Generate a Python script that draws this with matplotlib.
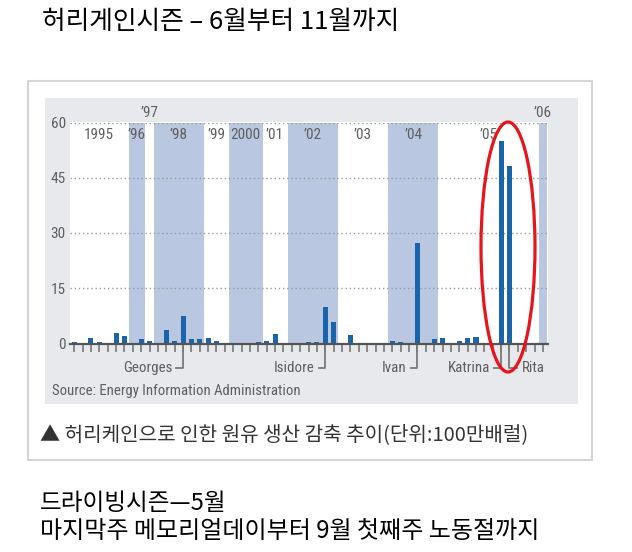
import matplotlib
matplotlib.use("Agg")
import matplotlib.pyplot as plt
from matplotlib.patches import Rectangle, Ellipse

# monthly crude production cut (million barrels), hurricane season months 1995-2006
values = [0.5, 0, 1.5, 0.3, 0, 2.8, 2.0,          # 1995
          0, 1.3,                                 # '96
          0.8,                                    # '97
          0, 3.6, 0.6, 7.6, 1.1, 1.3,             # '98
          1.6, 0.6, 0,                            # '99
          0, 0, 0, 0.3,                           # 2000
          0.7, 2.5, 0,                            # '01
          0, 0, 0.3, 0.5, 10.0, 5.9,              # '02
          0, 2.3, 0, 0, 0.2, 0,                   # '03
          0.6, 0.5, 0, 27.4, 0, 1.2,              # '04
          1.4, 0, 0.6, 1.5, 1.9, 0, 0, 54.9, 48.2, 0, 0, 0,  # '05
          0]                                      # '06
years = ["1995", "’96", "’97", "’98", "’99", "2000", "’01", "’02", "’03", "’04", "’05", "’06"]
months_per_year = [7, 2, 1, 6, 3, 4, 3, 6, 6, 6, 12, 1]
storms = ["Georges", "Isidore", "Ivan", "Katrina", "Rita"]
storm_idx = [13, 30, 41, 51, 52]
yticks = [0, 15, 30, 45, 60]

KR = ["Noto Sans CJK KR", "DejaVu Sans"]
LAT = ["Roboto Condensed", "Liberation Sans Narrow", "Roboto", "DejaVu Sans"]
GRAY = "#5f5f5f"
BAND = "#b9c7e1"
BAR = "#1a64ab"

W, H = 632, 552
fig = plt.figure(figsize=(W / 100, H / 100), dpi=100)


def fx(px):
    return px / W


def fy(py):
    return 1 - py / H


# outer frame and grey panel
fig.add_artist(Rectangle((fx(28), fy(460)), fx(592) - fx(28), fy(81) - fy(460),
                         facecolor="white", edgecolor="#d4d4d4", lw=1.5, zorder=-2))
fig.add_artist(Rectangle((fx(45), fy(404)), fx(578) - fx(45), fy(98) - fy(404),
                         facecolor="#e8e9ed", edgecolor="none", zorder=-1))

ax = fig.add_axes([fx(70), fy(343.5), fx(548) - fx(70), fy(122.5) - fy(343.5)])
ax.set_zorder(2)
ax.set_facecolor("white")
n = len(values)
ax.set_xlim(-0.5, n - 0.4)
ax.set_ylim(0, 60)

# year bands
start = 0
for i, (yr, m) in enumerate(zip(years, months_per_year)):
    lo, hi = start - 0.5, start + m - 0.5
    if i % 2 == 1:
        ax.axvspan(lo, min(hi, n - 0.4), color=BAND, lw=0, zorder=0)
    cx = (lo + hi) / 2
    if m == 1 and i > 0:
        ax.text(cx, 62.6, yr, ha="center", va="center", fontsize=11,
                color=GRAY, family=LAT, clip_on=False)
    else:
        ax.text(cx, 56.6, yr, ha="center", va="center", fontsize=11,
                color=GRAY, family=LAT)
    start += m

for yv in yticks[1:]:
    ax.axhline(yv, color="#9a9a9a", lw=1, ls=(0, (1, 2)), zorder=1)

ax.bar(range(n), values, width=0.6, color=BAR, zorder=2)

for s in ["top", "right", "left"]:
    ax.spines[s].set_visible(False)
ax.spines["bottom"].set_color("#555555")
ax.spines["bottom"].set_linewidth(1.6)
ax.set_xticks(range(n))
ax.set_xticklabels([])
ax.tick_params(axis="x", direction="out", length=6, width=1.2, color="#777777")
ax.set_yticks(yticks)
ax.set_yticklabels([str(v) for v in yticks], family=LAT, fontsize=11, color=GRAY)
ax.tick_params(axis="y", length=0, pad=3)

# storm leaders
ly = -6.6
for name, i in zip(storms, storm_idx):
    if name == "Rita":
        ax.plot([i, i, i + 0.9], [0, ly, ly], color="#7a7a7a", lw=1.3, clip_on=False)
        ax.text(i + 1.5, ly, name, ha="left", va="center", fontsize=10.8,
                color=GRAY, family=LAT, clip_on=False)
    else:
        ax.plot([i, i, i - 0.8], [0, ly, ly], color="#7a7a7a", lw=1.3, clip_on=False)
        ax.text(i - 1.3, ly, name, ha="right", va="center", fontsize=10.8,
                color=GRAY, family=LAT, clip_on=False)

fig.text(fx(52), fy(391), "Source: Energy Information Administration",
         fontsize=10.6, color=GRAY, family=LAT, va="center", zorder=3)

# red highlight ellipse
fig.add_artist(Ellipse((fx(508), fy(247)), fx(54), 250 / H, fill=False,
                       edgecolor="#e8141b", lw=2.3, zorder=5))

fig.text(fx(42), fy(22), "허리게인시즌 – 6월부터 11월까지", fontsize=18.5,
         family=KR, va="center", color="black")
fig.text(fx(40), fy(435), "▲ 허리케인으로 인한 원유 생산 감축 추이(단위:100만배럴)",
         fontsize=14.5, family=KR, va="center", color="#333333")
fig.text(fx(40), fy(503), "드라이빙시즌—5월", fontsize=17, family=KR,
         va="center", color="black")
fig.text(fx(40), fy(531), "마지막주 메모리얼데이부터 9월 첫째주 노동절까지",
         fontsize=17.3, family=KR, va="center", color="black")

fig.savefig("out.png", dpi=100, facecolor="white")
